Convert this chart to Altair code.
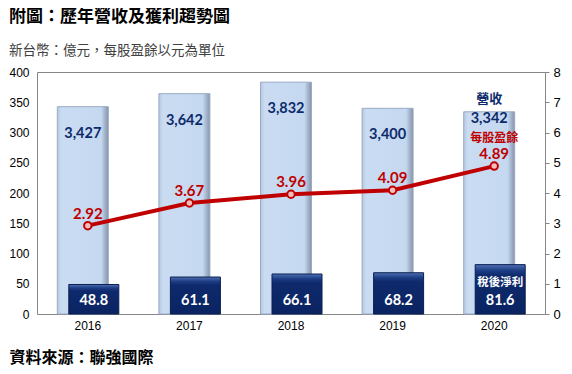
import altair as alt
import pandas as pd

years = ["2016", "2017", "2018", "2019", "2020"]
revenue = [3427, 3642, 3832, 3400, 3342]          # 億元
net_income = [48.8, 61.1, 66.1, 68.2, 81.6]       # 億元
eps = [2.92, 3.67, 3.96, 4.09, 4.89]              # 元
left_ticks = [0, 50, 100, 150, 200, 250, 300, 350, 400]
right_ticks = [0, 1, 2, 3, 4, 5, 6, 7, 8]

df = pd.DataFrame({"year": years, "revenue": revenue, "net": net_income, "eps": eps})

NAVY = "#0D2B6B"
RED = "#C00000"
CJK = "Noto Sans CJK TC"
NUM = "Lato"
AX = "Liberation Sans"
FRAME = "#868686"

REV_FILL = alt.LinearGradient(
    gradient="linear", x1=0, y1=0, x2=1, y2=0,
    stops=[alt.GradientStop(offset=0, color="#B4C8E0"),
           alt.GradientStop(offset=0.08, color="#CADCF2"),
           alt.GradientStop(offset=0.86, color="#C4D8F0"),
           alt.GradientStop(offset=1, color="#8593A8")])
NET_FILL = alt.LinearGradient(
    gradient="linear", x1=0, y1=0, x2=0, y2=1,
    stops=[alt.GradientStop(offset=0, color="#5070B4"),
           alt.GradientStop(offset=0.12, color="#1C3C84"),
           alt.GradientStop(offset=0.22, color="#0E2A6C"),
           alt.GradientStop(offset=1, color="#0A2462")])

base = alt.Chart(df).transform_calculate(rev_plot="datum.revenue / 10")

x = alt.X(
    "year:N", sort=years,
    axis=alt.Axis(
        title="資料來源：聯強國際", labelAngle=0, ticks=False, domain=False,
        labelFont=AX, labelFontSize=12, labelColor="#000", labelPadding=6,
        titleFont=CJK, titleFontSize=16, titleFontWeight="bold", titleColor="#000",
        titleAnchor="start", titleAlign="left", titleBaseline="middle",
        titleX=-28, titleY=43,
    ),
)

yl_scale = alt.Scale(domain=[0, 400], nice=False, zero=True)
yl_axis = alt.Axis(values=left_ticks, orient="left", ticks=False, domain=False, grid=False,
                   labelPadding=8, labelFont=AX, labelFontSize=12, labelColor="#000", title=None)

def yl(field):
    return alt.Y(field, scale=yl_scale, axis=yl_axis)

yr_scale = alt.Scale(domain=[0, 8], nice=False, zero=True)
yr_axis = alt.Axis(values=right_ticks, orient="right", ticks=True, tickSize=4, tickColor=FRAME,
                   domain=True, domainColor=FRAME, grid=False, labelPadding=4,
                   labelFont=AX, labelFontSize=13, labelColor="#000", title=None)
yr = alt.Y("eps:Q", scale=yr_scale, axis=yr_axis)

rev_bars = base.mark_bar(width=51, xOffset=-5, fill=REV_FILL, stroke="#9AABC4", strokeWidth=1).encode(
    x=x, y=yl("rev_plot:Q"))

rev_labels = base.mark_text(font=NUM, fontWeight="bold", fontSize=14.5, color=NAVY, dy=27, xOffset=-5).encode(
    x=x, y=yl("rev_plot:Q"), text=alt.Text("revenue:Q", format=",")
).transform_filter("datum.year != '2020'")

rev_label_2020 = base.mark_text(font=NUM, fontWeight="bold", fontSize=14.5, color=NAVY, dy=7, xOffset=-5).encode(
    x=x, y=yl("rev_plot:Q"), text=alt.Text("revenue:Q", format=",")
).transform_filter("datum.year == '2020'")

rev_note = base.mark_text(text="營收", font=CJK, fontWeight="bold", fontSize=13, color=NAVY, dy=-13, xOffset=-5).encode(
    x=x, y=yl("rev_plot:Q")
).transform_filter("datum.year == '2020'")

net_bars = base.mark_bar(width=50, xOffset=6, fill=NET_FILL, stroke="#0A1E50", strokeWidth=1).encode(
    x=x, y=yl("net:Q"))

net_labels = base.mark_text(font=NUM, fontWeight="bold", fontSize=14.5, color="#FFFFFF", dy=-13, xOffset=6).encode(
    x=x, y=alt.YDatum(0, scale=yl_scale, axis=yl_axis), text=alt.Text("net:Q", format=".1f"))

net_note = base.mark_text(text="稅後淨利", font=CJK, fontWeight="bold", fontSize=11.5, color="#FFFFFF", dy=-31, xOffset=6).encode(
    x=x, y=alt.YDatum(0, scale=yl_scale, axis=yl_axis)
).transform_filter("datum.year == '2020'")

eps_line = base.mark_line(color=RED, strokeWidth=4).encode(x=x, y=yr)
eps_points = base.mark_point(shape="circle", filled=True, fill="#F2BFBF", stroke=RED, strokeWidth=2,
                             size=55, opacity=1).encode(x=x, y=yr)
eps_labels = base.mark_text(font=NUM, fontWeight="bold", fontSize=15, color=RED, dy=-12).encode(
    x=x, y=yr, text=alt.Text("eps:Q", format=".2f"))
eps_note = base.mark_text(text="每股盈餘", font=CJK, fontWeight="bold", fontSize=12, color=RED, dy=-28.5).encode(
    x=x, y=yr
).transform_filter("datum.year == '2020'")

left = alt.layer(rev_bars, rev_labels, rev_label_2020, rev_note, net_bars, net_labels, net_note)
right = alt.layer(eps_line, eps_points, eps_labels, eps_note)

chart = alt.layer(left, right).resolve_scale(y="independent").properties(
    width=508, height=242,
    autosize=alt.AutoSizeParams(type="none"),
    padding={"left": 29, "top": 64, "right": 19, "bottom": 52},
    background="#FFFFFF",
    title=alt.TitleParams(
        text="附圖：歷年營收及獲利趨勢圖",
        subtitle="新台幣：億元，每股盈餘以元為單位",
        anchor="start", frame="group", dx=-28, offset=8,
        font=CJK, fontSize=17, fontWeight="bold", color="#000",
        subtitleFont=CJK, subtitleFontSize=13.5, subtitleColor="#404040", subtitlePadding=18,
    ),
).configure_view(stroke=FRAME, strokeWidth=1)

chart.save("out.html", embed_options={"renderer": "svg", "actions": False})
